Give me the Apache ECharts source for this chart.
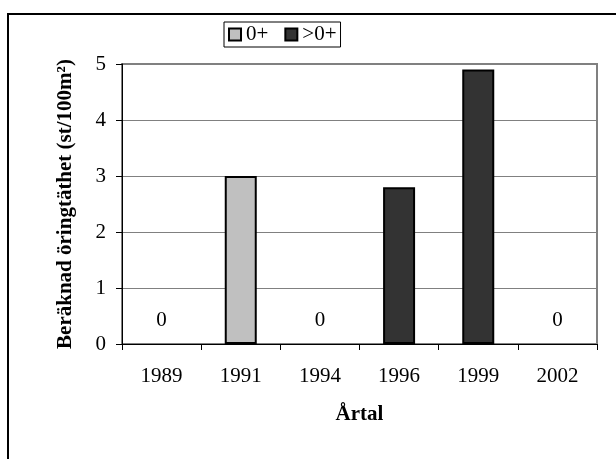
<!DOCTYPE html>
<html>
<head>
<meta charset="utf-8">
<script src="https://cdn.jsdelivr.net/npm/echarts@6/dist/echarts.min.js"></script>
<style>
  html, body { margin: 0; padding: 0; background: #fff; }
  #chart { width: 616px; height: 459px; }
</style>
</head>
<body>
<div id="chart"></div>
<script>
var years = ['1989', '1991', '1994', '1996', '1999', '2002'];
var seriesNames = ['0+', '>0+'];
var youngFish = [0, 3, 0, null, null, 0];   // 0+
var olderFish = [null, null, null, 2.8, 4.9, null]; // >0+
var yTicks = [0, 1, 2, 3, 4, 5];

var serif = 'Liberation Serif';
var fs = 21;

// zero values get a "0" label above the axis, like the original
function withZeroLabels(values) {
    return values.map(function (v) {
        if (v === 0) {
            return { value: 0, label: { show: true }, itemStyle: { borderWidth: 0 } };
        }
        return v;
    });
}

var chart = echarts.init(document.getElementById('chart'));

var option = {
    backgroundColor: '#ffffff',
    animation: false,
    textStyle: { fontFamily: serif, color: '#000' },
    graphic: [{
        type: 'rect',
        shape: { x: 8, y: 14, width: 700, height: 600 },
        style: { fill: 'none', stroke: '#000', lineWidth: 2 },
        silent: true
    }],
    legend: {
        left: 224,
        top: 22,
        padding: [2, 4, 2, 4],
        itemWidth: 12,
        itemHeight: 12,
        itemGap: 16,
        icon: 'rect',
        borderColor: '#000',
        borderWidth: 1,
        backgroundColor: '#fff',
        textStyle: { fontFamily: serif, fontSize: fs, color: '#000' },
        data: seriesNames
    },
    grid: {
        left: 122,
        right: 19,
        top: 64,
        bottom: 115,
        show: true,
        borderColor: '#808080',
        borderWidth: 2
    },
    xAxis: {
        type: 'category',
        data: years,
        name: 'Årtal',
        nameLocation: 'middle',
        nameGap: 60,
        nameTextStyle: { fontFamily: serif, fontSize: fs, fontWeight: 'bold', color: '#000' },
        axisLine: { lineStyle: { color: '#000', width: 1 } },
        axisTick: { show: true, alignWithLabel: false, length: 6, lineStyle: { color: '#000' } },
        axisLabel: { margin: 22, fontFamily: serif, fontSize: fs, color: '#000' },
        splitLine: { show: false }
    },
    yAxis: {
        type: 'value',
        min: yTicks[0],
        max: yTicks[yTicks.length - 1],
        interval: 1,
        name: 'Beräknad öringtäthet (st/100m²)',
        nameLocation: 'middle',
        nameGap: 46,
        nameTextStyle: { fontFamily: serif, fontSize: fs, fontWeight: 'bold', color: '#000' },
        axisLine: { show: true, lineStyle: { color: '#000', width: 1 } },
        axisTick: { show: true, length: 6, lineStyle: { color: '#000' } },
        axisLabel: { margin: 16, fontFamily: serif, fontSize: fs, color: '#000' },
        splitLine: { show: true, lineStyle: { color: '#808080', width: 1 } }
    },
    series: [
        {
            name: seriesNames[0],
            type: 'bar',
            barWidth: 32,
            barGap: '-100%',
            data: withZeroLabels(youngFish),
            itemStyle: { color: '#c0c0c0', borderColor: '#000', borderWidth: 2 },
            label: {
                show: false,
                position: 'top',
                distance: 13,
                fontFamily: serif,
                fontSize: fs,
                color: '#000'
            }
        },
        {
            name: seriesNames[1],
            type: 'bar',
            barWidth: 32,
            barGap: '-100%',
            data: olderFish,
            itemStyle: { color: '#333333', borderColor: '#000', borderWidth: 2 }
        }
    ]
};

chart.setOption(option);
</script>
</body>
</html>
